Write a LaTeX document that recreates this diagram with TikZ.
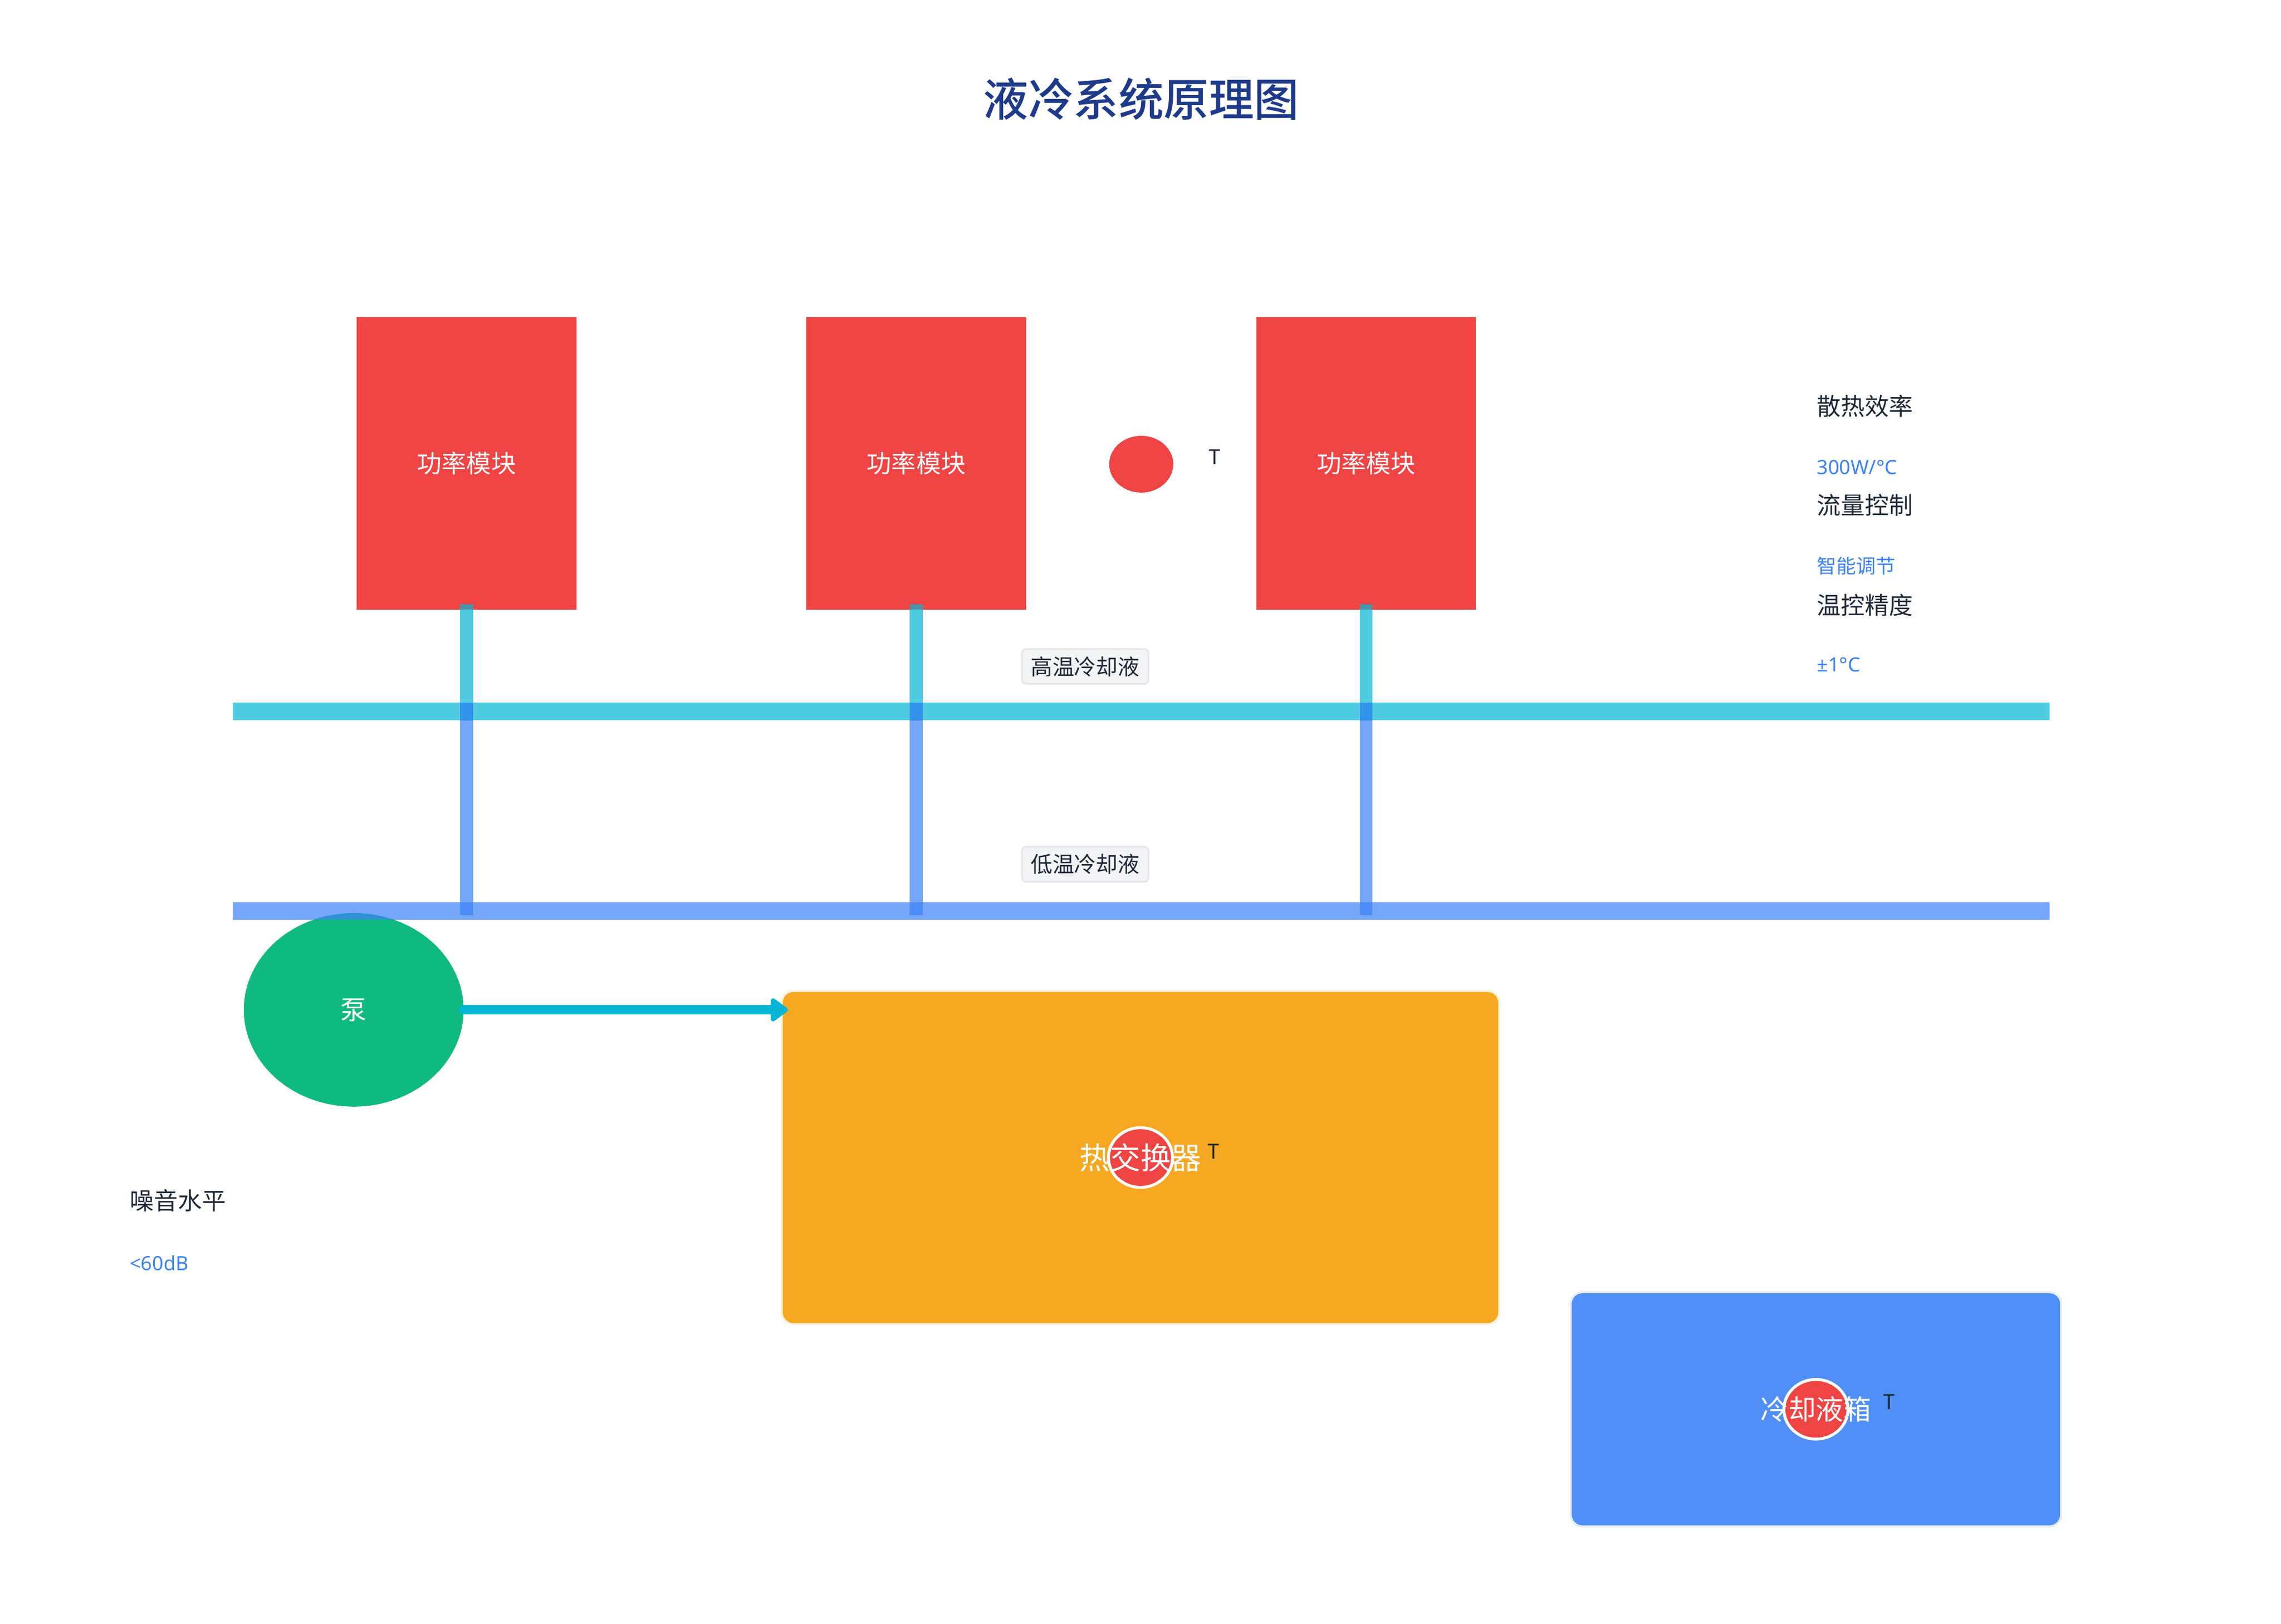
\documentclass[tikz,border=0pt]{standalone}
\usepackage{fontspec}
\setmainfont{Noto Sans CJK SC}
\newfontfamily\titlefont{Noto Sans CJK SC Medium}
\newfontfamily\numfont{Noto Sans}
\usepackage{xcolor}
\usepackage{tikz}
\usetikzlibrary{positioning, shapes.geometric, arrows.meta}
\definecolor{modred}{HTML}{EF4444}
\definecolor{titleblue}{HTML}{1E3A8A}
\definecolor{textdark}{HTML}{1F2937}
\definecolor{valblue}{HTML}{3B82F6}
\definecolor{hotcyan}{HTML}{06B6D4}
\definecolor{coldblue}{HTML}{3B82F6}
\definecolor{pumpgreen}{HTML}{10B981}
\definecolor{hxorange}{HTML}{F6A823}
\definecolor{tankblue}{HTML}{4F8FF7}
\definecolor{taggray}{HTML}{F3F4F6}
\definecolor{tagline}{HTML}{E5E7EB}
\tikzstyle{module} = [rectangle, fill=modred, minimum width=151pt, minimum height=201pt, text=white, font=\fontsize{17pt}{20pt}\selectfont]
\tikzstyle{pipebar} = [rectangle, minimum width=1248pt, minimum height=12pt, inner sep=0pt, fill opacity=0.7]
\tikzstyle{hotline} = [draw=hotcyan, draw opacity=0.7, line width=9pt]
\tikzstyle{coldline} = [draw=coldblue, draw opacity=0.7, line width=9pt]
\tikzstyle{pipetag} = [rectangle, rounded corners=3pt, fill=taggray, draw=tagline, line width=1.2pt, minimum width=87pt, minimum height=24pt, inner sep=0pt, text=textdark, font=\fontsize{15pt}{18pt}\selectfont]
\tikzstyle{probe} = [ellipse, fill=modred, draw=white, line width=2pt, minimum width=44pt, minimum height=41pt, inner sep=0pt]
\tikzstyle{tlabel} = [inner sep=0pt, text=textdark, font=\fontsize{14pt}{16pt}\selectfont]
\tikzstyle{boxtext} = [inner sep=0pt, text=white, font=\fontsize{21pt}{24pt}\selectfont]
\tikzstyle{infolabel} = [anchor=west, inner sep=0pt, text=textdark, font=\fontsize{16.5pt}{19pt}\selectfont]
\tikzstyle{infovalue} = [anchor=west, inner sep=0pt, text=valblue, font=\fontsize{13.5pt}{16pt}\selectfont]
\tikzstyle{flow} = [draw=hotcyan, line width=6.5pt, line cap=round, -{Triangle[round, length=13pt, width=18pt]}]

\begin{document}
\begin{tikzpicture}[x=1pt, y=-1pt]
    \useasboundingbox (0,0) rectangle (1567,1116);
    \node[text=titleblue, font=\titlefont\fontsize{31pt}{36pt}\selectfont] (title) at (784,68) {液冷系统原理图};

    \node[module] (m1) at (320.5,318.5) {功率模块};
    \node[module] (m2) at (629.5,318.5) {功率模块};
    \node[module] (m3) at (938.5,318.5) {功率模块};
    \node[probe, draw=none, minimum height=39pt] (s1) at (784,319) {};
    \node[tlabel, right=23pt of s1, yshift=5pt] (t1) {T};

    \node[ellipse, fill=pumpgreen, minimum width=151pt, minimum height=133pt, text=white, font=\fontsize{18pt}{21pt}\selectfont] (pump) at (243,694) {泵};

    \node[pipebar, fill=hotcyan] (hot) at (784,489) {};
    \node[pipebar, fill=coldblue] (cold) at (784,626) {};
    \foreach \m in {m1,m2,m3} {
        \draw[hotline] ([yshift=4pt]\m.south) -- (\m.south |- hot.south);
        \draw[coldline] (\m.south |- hot.north) -- ([yshift=-3pt]\m.south |- cold.center);
    }
    \node[pipetag] (hottag) at (745.5,458) {高温冷却液};
    \node[pipetag] (coldtag) at (745.5,594) {低温冷却液};

    \node[rectangle, rounded corners=8pt, fill=hxorange, draw=hxorange!15, line width=1.5pt, minimum width=493pt, minimum height=229pt] (hx) at (783.5,795.5) {};
    \node[probe] (s2) at (hx.center) {};
    \node[boxtext] (hxname) at (hx.center) {热交换器};
    \node[tlabel, right=23pt of s2, yshift=4pt] (t2) {T};
    \draw[flow, shorten >=-5pt] (pump.east) -- (pump.east -| hx.west);

    \node[rectangle, rounded corners=8pt, fill=tankblue, draw=tankblue!15, line width=1.5pt, minimum width=337pt, minimum height=161pt] (tank) at (1247.5,968.5) {};
    \node[probe] (s3) at (tank.center) {};
    \node[boxtext, font=\fontsize{19pt}{22pt}\selectfont] (tankname) at (tank.center) {冷却液箱};
    \node[tlabel, right=23pt of s3, yshift=5pt] (t3) {T};

    \node[infolabel] (eff) at (1248,279) {散热效率};
    \node[infovalue] (effval) at (1248,321) {\numfont 300W/°C};
    \node[infolabel] (flowctl) at (1248,347) {流量控制};
    \node[infovalue] (flowval) at (1248,389) {智能调节};
    \node[infolabel] (tempctl) at (1248,416) {温控精度};
    \node[infovalue] (tempval) at (1248,457) {\numfont ±1°C};
    \node[infolabel] (noise) at (89,825) {噪音水平};
    \node[infovalue] (noiseval) at (89,868) {\numfont <60dB};
\end{tikzpicture}
\end{document}
